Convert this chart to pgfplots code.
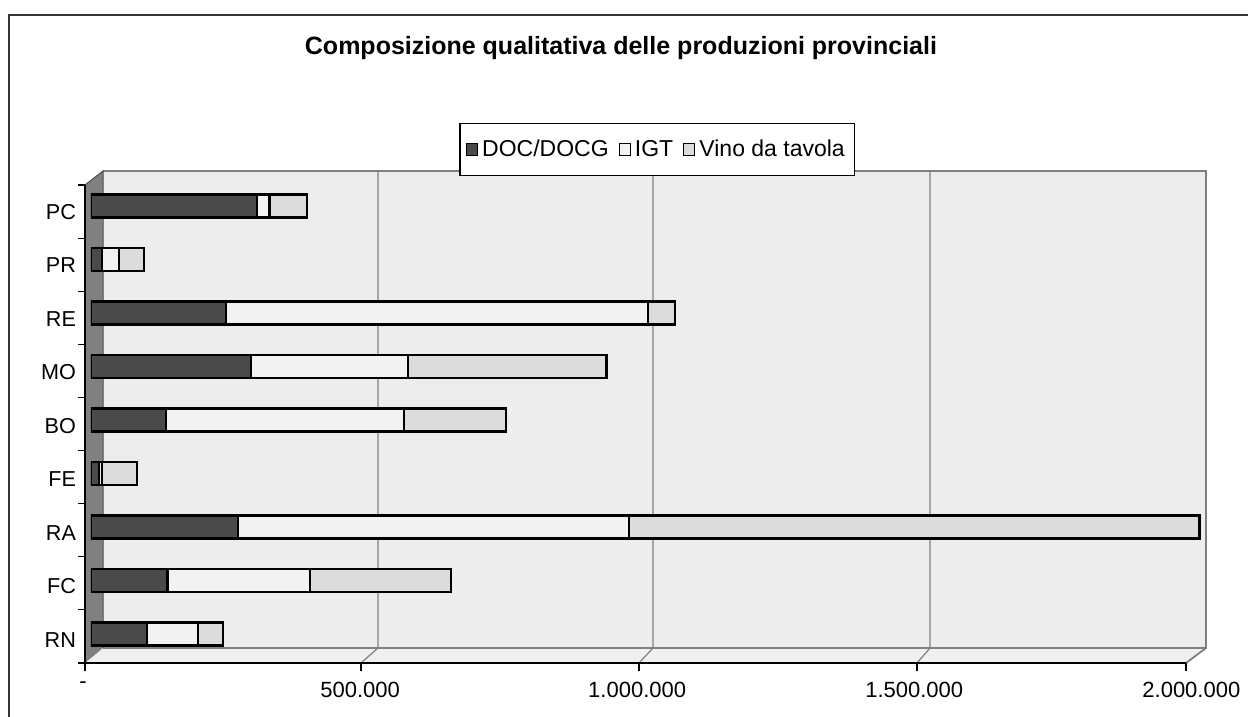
\documentclass[border=0pt]{standalone}
\usepackage{pgfplots}
\pgfplotsset{compat=1.18}
\usepackage{fontspec}
\setmainfont{Liberation Sans}
\definecolor{docc}{HTML}{4A4A4A}
\definecolor{igtc}{HTML}{F2F2F2}
\definecolor{vinoc}{HTML}{DCDCDC}
\definecolor{wallc}{HTML}{808080}
\definecolor{backc}{HTML}{EDEDED}
\begin{document}
\begin{tikzpicture}
\useasboundingbox (0,0) rectangle (624pt,358.5pt);
\begin{scope}[x=0.5pt,y=-0.5pt,yshift=358.5pt]
 \draw[line width=1pt,color=black!80] (8.5,725) -- (8.5,15) -- (1260,15);
 \fill[backc] (103,171) rectangle (1206,648);
 \fill[backc!85!white] (85,663) -- (103,648) -- (1206,648) -- (1186,663) -- cycle;
 \draw[wallc,line width=0.9pt] (103,171) -- (1206,171) -- (1206,648) -- (103,648);
 \draw[wallc,line width=0.9pt] (1206,648) -- (1186,663);
 \foreach \b/\f in {378/361,653/639,930/917}{\draw[wallc,line width=0.6pt] (\b,171) -- (\b,648) -- (\f,663);}
 \fill[wallc] (85,185) -- (103,171) -- (103,648) -- (85,663) -- cycle;
 \draw[black!70,line width=0.5pt] (85,185) -- (103,171) -- (103,648);
 \draw[black,line width=0.6pt] (85,185) -- (85,663) -- (1186,663);
 \foreach \k in {0,...,9}{\draw[black,line width=0.6pt] (78,{185+53.11*\k}) -- (85,{185+53.11*\k});}
 \foreach \f in {85,361,639,917,1186}{\draw[black,line width=0.6pt] (\f,663) -- (\f,671);}
\end{scope}
\begin{axis}[
 at={(45.5pt,27pt)}, anchor=south west, scale only axis,
 width=557.5pt, height=246pt,
 xbar stacked, bar width=11.5pt,
 xmin=0, xmax=2012, ymin=-0.542, ymax=8.654,
 axis line style={draw=none}, major tick length=0pt, tick style={draw=none},
 ytick={0,...,8}, yticklabels={RN,FC,RA,FE,BO,MO,RE,PR,PC},
 xtick={0,500,1000,1500,2000}, xticklabels={-,500.000,1.000.000,1.500.000,2.000.000},
 xticklabel style={font=\fontsize{11}{13}\selectfont, xshift=-4pt, yshift=-6pt},
 yticklabel style={font=\fontsize{10.8}{13}\selectfont, xshift=-4pt, yshift=-3pt},
 title={Composizione qualitativa delle produzioni provinciali},
 title style={font=\bfseries\fontsize{12.5}{15}\selectfont, at={(0.4753,1.2256)}, anchor=center},
 legend style={at={(0.508,1.0437)}, anchor=center, draw=black, line width=0.6pt,
   font=\fontsize{11.5}{14}\selectfont, legend columns=-1,
   inner xsep=3pt, inner ysep=6pt,
   /tikz/every even column/.append style={column sep=3pt}},
 legend image code/.code={\draw[#1,line width=0.5pt] (0pt,-2.8pt) rectangle (5.6pt,2.8pt);},
 every axis plot/.append style={draw=black, line width=1.2pt},
]
\addplot[fill=docc] coordinates {(101,0) (138,1) (265,2) (14,3) (135,4) (289,5) (244,6) (20,7) (300,8)};
\addplot[fill=igtc] coordinates {(92,0) (257,1) (706,2) (6,3) (430,4) (283,5) (761,6) (30,7) (22,8)};
\addplot[fill=vinoc] coordinates {(45,0) (255,1) (1029,2) (63,3) (184,4) (358,5) (49,6) (46,7) (68,8)};
\legend{DOC/DOCG, IGT, Vino da tavola}
\end{axis}
\end{tikzpicture}
\end{document}
